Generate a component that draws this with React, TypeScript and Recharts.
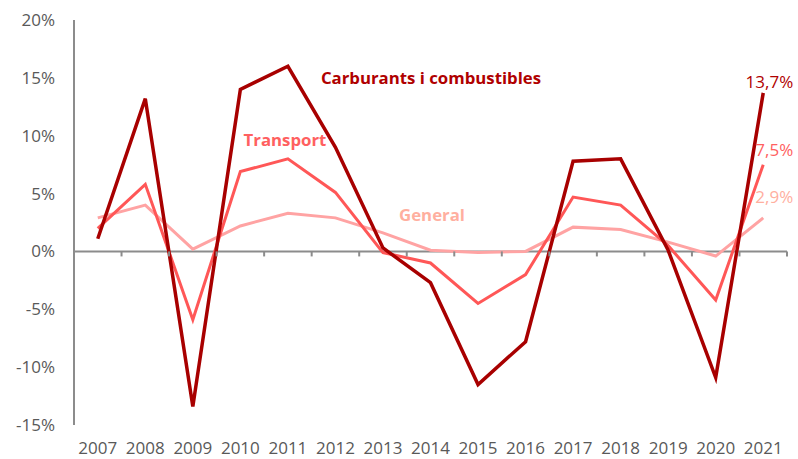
import React from 'react';
import { Customized, LabelList, Line, LineChart, ReferenceLine, XAxis, YAxis } from 'recharts';

const years = ['2007', '2008', '2009', '2010', '2011', '2012', '2013', '2014', '2015', '2016', '2017', '2018', '2019', '2020', '2021'];
const carburants = [1.1, 13.2, -13.4, 14.0, 16.0, 9.0, 0.3, -2.7, -11.5, -7.8, 7.8, 8.0, 0.1, -10.9, 13.7];
const transport = [2.0, 5.8, -5.9, 6.9, 8.0, 5.1, -0.1, -1.0, -4.5, -2.0, 4.7, 4.0, 0.5, -4.2, 7.5];
const general = [2.9, 4.0, 0.2, 2.2, 3.3, 2.9, 1.6, 0.1, -0.1, 0.0, 2.1, 1.9, 0.8, -0.4, 2.9];
const yTicks = [-15, -10, -5, 0, 5, 10, 15, 20];

const data = years.map((year, i) => ({
  year,
  carburants: carburants[i],
  transport: transport[i],
  general: general[i],
}));

const W = 798;
const H = 459;
const M = { top: 20, right: 11, bottom: 0, left: 0 };
const Y_AXIS_W = 74;
const X_AXIS_H = 34;
const PLOT_W = W - M.left - M.right - Y_AXIS_W;
const PLOT_H = H - M.top - M.bottom - X_AXIS_H;
const ZERO_Y = M.top + (PLOT_H * yTicks[yTicks.length - 1]) / (yTicks[yTicks.length - 1] - yTicks[0]);

const FONT = '"Open Sans", sans-serif';
const AXIS = '#8c8c8c';
const TEXT = '#595959';
const DARK = '#a80000';
const MID = '#ff5757';
const LIGHT = '#ffa3a3';

function YearTick({ x, y, payload, index }: any) {
  const bw = PLOT_W / years.length;
  return (
    <g>
      <line x1={x - bw / 2} x2={x - bw / 2} y1={ZERO_Y} y2={ZERO_Y + 5} stroke={AXIS} strokeWidth={2} />
      {index === years.length - 1 && (
        <line x1={x + bw / 2} x2={x + bw / 2} y1={ZERO_Y} y2={ZERO_Y + 5} stroke={AXIS} strokeWidth={2} />
      )}
      <text x={x} y={y + 29} textAnchor="middle" fill={TEXT} fontSize={17} fontFamily={FONT}>
        {payload.value}
      </text>
    </g>
  );
}

function endLabel(color: string, dy: number) {
  return (props: any) => {
    const { x, y, value, index } = props;
    if (index !== years.length - 1) return null;
    return (
      <text x={x + 30} y={y + dy} textAnchor="end" fill={color} fontSize={17} fontFamily={FONT}>
        {value.toFixed(1).replace('.', ',')}%
      </text>
    );
  };
}

function SeriesNames() {
  return (
    <g fontFamily={FONT} fontWeight="bold" fontSize={16.8}>
      <text x={431} y={84} textAnchor="middle" fill="#b00000">Carburants i combustibles</text>
      <text x={285} y={146} textAnchor="middle" fill="#ff6060">Transport</text>
      <text x={432} y={221} textAnchor="middle" fill="#ffaf9f">General</text>
    </g>
  );
}

export default function App() {
  return (
    <div style={{ position: 'absolute', left: 0, top: 0, background: '#fff' }}>
      <LineChart width={W} height={H} data={data} margin={M}>
        <XAxis
          dataKey="year"
          scale="band"
          interval={0}
          axisLine={false}
          tickLine={false}
          tickSize={0}
          tickMargin={0}
          height={X_AXIS_H}
          tick={<YearTick />}
        />
        <YAxis
          domain={[-15, 20]}
          ticks={yTicks}
          width={Y_AXIS_W}
          axisLine={{ stroke: AXIS, strokeWidth: 2 }}
          tickLine={false}
          tickMargin={13}
          tickFormatter={(v: number) => `${v}%`}
          tick={{ fill: TEXT, fontSize: 17, fontFamily: FONT }}
        />
        <ReferenceLine y={0} stroke={AXIS} strokeWidth={2} />
        <Line dataKey="general" type="linear" stroke={LIGHT} strokeWidth={3} dot={false} isAnimationActive={false}>
          <LabelList dataKey="general" content={endLabel('#ffaf9f', -15)} />
        </Line>
        <Line dataKey="transport" type="linear" stroke={MID} strokeWidth={3} dot={false} isAnimationActive={false}>
          <LabelList dataKey="transport" content={endLabel('#ff6060', -9)} />
        </Line>
        <Line dataKey="carburants" type="linear" stroke={DARK} strokeWidth={3.5} dot={false} isAnimationActive={false}>
          <LabelList dataKey="carburants" content={endLabel('#b00000', -5)} />
        </Line>
        <Customized component={<SeriesNames />} />
      </LineChart>
    </div>
  );
}
